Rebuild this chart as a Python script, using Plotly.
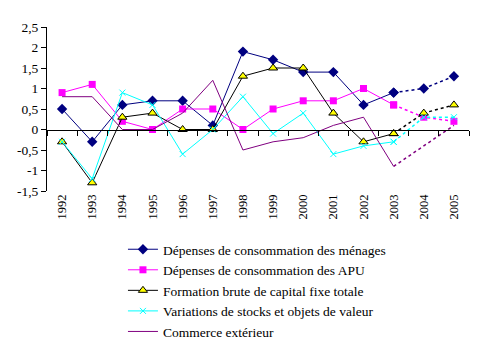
import plotly.graph_objects as go

years = [str(y) for y in range(1992, 2006)]

menages = [0.5, -0.3, 0.6, 0.7, 0.7, 0.1, 1.9, 1.7, 1.4, 1.4, 0.6, 0.9, 1.0, 1.3]
apu = [0.9, 1.1, 0.2, 0.0, 0.5, 0.5, 0.0, 0.5, 0.7, 0.7, 1.0, 0.6, 0.3, 0.2]
fbcf = [-0.3, -1.3, 0.3, 0.4, 0.0, 0.0, 1.3, 1.5, 1.5, 0.4, -0.3, -0.1, 0.4, 0.6]
stocks = [-0.3, -1.2, 0.9, 0.6, -0.6, 0.0, 0.8, -0.1, 0.4, -0.6, -0.4, -0.3, 0.3, 0.3]
commerce = [0.8, 0.8, 0.0, 0.0, 0.4, 1.2, -0.5, -0.3, -0.2, 0.1, 0.3, -0.9, -0.4, 0.1]

names = [
    "Dépenses de consommation des ménages",
    "Dépenses de consommation des APU",
    "Formation brute de capital fixe totale",
    "Variations de stocks et objets de valeur",
    "Commerce extérieur",
]

ytick_vals = [-1.5, -1, -0.5, 0, 0.5, 1, 1.5, 2, 2.5]
ytick_text = ["-1,5", "-1", "-0,5", "0", "0,5", "1", "1,5", "2", "2,5"]

split = 11  # index of 2003: solid up to here, dotted after

styles = [
    dict(color="#000080", marker=dict(symbol="diamond", size=8, color="#000080")),
    dict(color="#FF00FF", marker=dict(symbol="square", size=7, color="#FF00FF")),
    dict(color="#000000", marker=dict(symbol="triangle-up", size=8, color="#FFFF00",
                                       line=dict(color="#000000", width=1))),
    dict(color="#00FFFF", marker=dict(symbol="x-thin", size=6, color="#00FFFF",
                                       line=dict(color="#00FFFF", width=1))),
    dict(color="#800080", marker=None),
]

series = [menages, apu, fbcf, stocks, commerce]

fig = go.Figure()
for name, vals, st in zip(names, series, styles):
    mode = "lines+markers" if st["marker"] else "lines"
    kw = dict(marker=st["marker"]) if st["marker"] else {}
    fig.add_trace(go.Scatter(
        x=years[:split + 1], y=vals[:split + 1], name=name, mode=mode,
        line=dict(color=st["color"], width=1), xaxis="x", yaxis="y", **kw))
for name, vals, st in zip(names, series, styles):
    mode = "lines+markers" if st["marker"] else "lines"
    kw = dict(marker=st["marker"]) if st["marker"] else {}
    fig.add_trace(go.Scatter(
        x=years[split:], y=vals[split:], name=name, mode=mode, showlegend=False,
        line=dict(color=st["color"], width=1.5, dash="dot"), xaxis="x", yaxis="y", **kw))

# invisible trace to draw the boundary ticks on the zero line axis
fig.add_trace(go.Scatter(x=years, y=[None] * len(years), xaxis="x2", yaxis="y",
                         showlegend=False, hoverinfo="skip"))

serif = "Liberation Serif"
fig.update_layout(
    width=484, height=351,
    margin=dict(l=47, r=15, t=27, b=160, autoexpand=False),
    paper_bgcolor="white", plot_bgcolor="white",
    font=dict(family=serif, size=13, color="black"),
    showlegend=True,
    legend=dict(x=0.18, y=-0.262, xanchor="left", yanchor="top",
                font=dict(family=serif, size=13.5), bgcolor="rgba(0,0,0,0)",
                tracegroupgap=0),
    xaxis=dict(type="category", categoryorder="array", categoryarray=years,
               range=[-0.5, 13.5], showgrid=False, zeroline=False, showline=False,
               ticks="", tickangle=-90, tickfont=dict(family=serif, size=12.5)),
    xaxis2=dict(type="category", categoryorder="array", categoryarray=years,
                range=[-0.5, 13.5], overlaying="x", anchor="free", position=0.375,
                showgrid=False, zeroline=False, showline=True, linecolor="black",
                linewidth=1, ticks="outside", tickson="boundaries", ticklen=5,
                tickcolor="black", showticklabels=False),
    yaxis=dict(range=[-1.5, 2.5], tickvals=ytick_vals, ticktext=ytick_text,
               showgrid=False, zeroline=False, showline=True, linecolor="black",
               linewidth=1, ticks="outside", ticklen=5, tickcolor="black",
               tickfont=dict(family=serif, size=13.5)),
)

fig.write_html("out.html")
